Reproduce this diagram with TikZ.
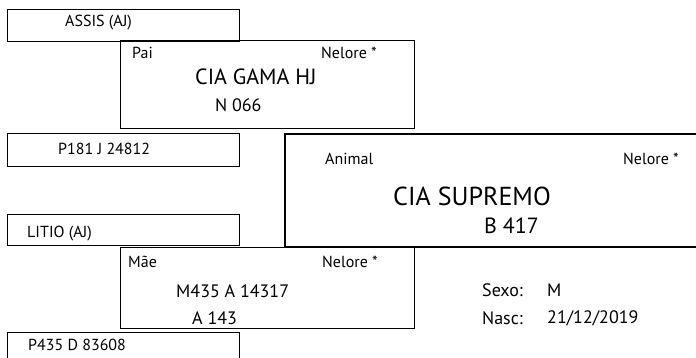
\documentclass[tikz,border=0pt]{standalone}
\usepackage{fontspec}
\setmainfont{PT Sans}
\usepackage{tikz}
\usetikzlibrary{positioning}
\tikzset{
  regbox/.style={draw, line width=1.3pt, minimum width=232pt, minimum height=32pt, anchor=north west, inner sep=0pt},
  parentbox/.style={draw, line width=1.3pt, minimum width=294pt, minimum height=88pt, anchor=north west, inner sep=0pt},
  animalbox/.style={draw, line width=1.8pt, minimum width=420pt, minimum height=113pt, anchor=north west, inner sep=0pt},
  tag/.style={anchor=west, inner sep=0pt, font=\fontsize{16}{19}\selectfont},
  midname/.style={anchor=west, inner sep=0pt, font=\fontsize{22}{26}\selectfont},
  midcode/.style={anchor=west, inner sep=0pt, font=\fontsize{18}{21}\selectfont},
  bigname/.style={anchor=west, inner sep=0pt, font=\fontsize{26}{30}\selectfont},
  bigcode/.style={anchor=west, inner sep=0pt, font=\fontsize{22}{26}\selectfont}
}
\begin{document}
\begin{tikzpicture}[x=1pt, y=-1pt]
  \useasboundingbox (0,0) rectangle (696,358);
  \clip (0,0) rectangle (696,358);
  % boxes
  \node[regbox] (assis) at (7,9) {};
  \node[parentbox] (pai) at (120,40) {};
  \node[regbox, minimum height=33pt] (p181) at (7,133) {};
  \node[animalbox, minimum width=420pt, minimum height=113pt] (animal) at (284,133) {};
  \node[regbox, minimum height=31pt] (litio) at (7,214) {};
  \node[parentbox, minimum height=81pt] (mae) at (120,247) {};
  \node[regbox, minimum height=40pt] (p435) at (7,332) {};
  % texts
  \node[tag] (assisname) at (65,23) {ASSIS (AJ)};
  \node[tag] (pailabel) at (132,53) {Pai};
  \node[tag] (paibreed) at (321,53) {Nelore *};
  \node[midname] (painame) at (195,77) {CIA GAMA HJ};
  \node[midcode] (paicode) at (215,105) {N 066};
  \node[tag] (p181name) at (58,149) {P181 J 24812};
  \node[tag] (animallabel) at (325,159) {Animal};
  \node[tag] (animalbreed) at (623,159) {Nelore *};
  \node[bigname] (animalname) at (393,196) {CIA SUPREMO};
  \node[bigcode] (animalcode) at (484,226) {B 417};
  \node[tag] (litioname) at (27,234) {LITIO (AJ)};
  \node[tag] (maelabel) at (128,262) {Mãe};
  \node[tag] (maebreed) at (322,262) {Nelore *};
  \node[midcode] (maename) at (176,291) {M435 A 14317};
  \node[midcode] (maecode) at (192,318) {A 143};
  \node[tag] (p435name) at (28,345) {P435 D 83608};
  \node[midcode] (sexolabel) at (482,290) {Sexo:};
  \node[midcode] (sexo) at (547,290) {M};
  \node[midcode] (nasclabel) at (482,318) {Nasc:};
  \node[midcode] (nasc) at (547,318) {21/12/2019};
\end{tikzpicture}
\end{document}
